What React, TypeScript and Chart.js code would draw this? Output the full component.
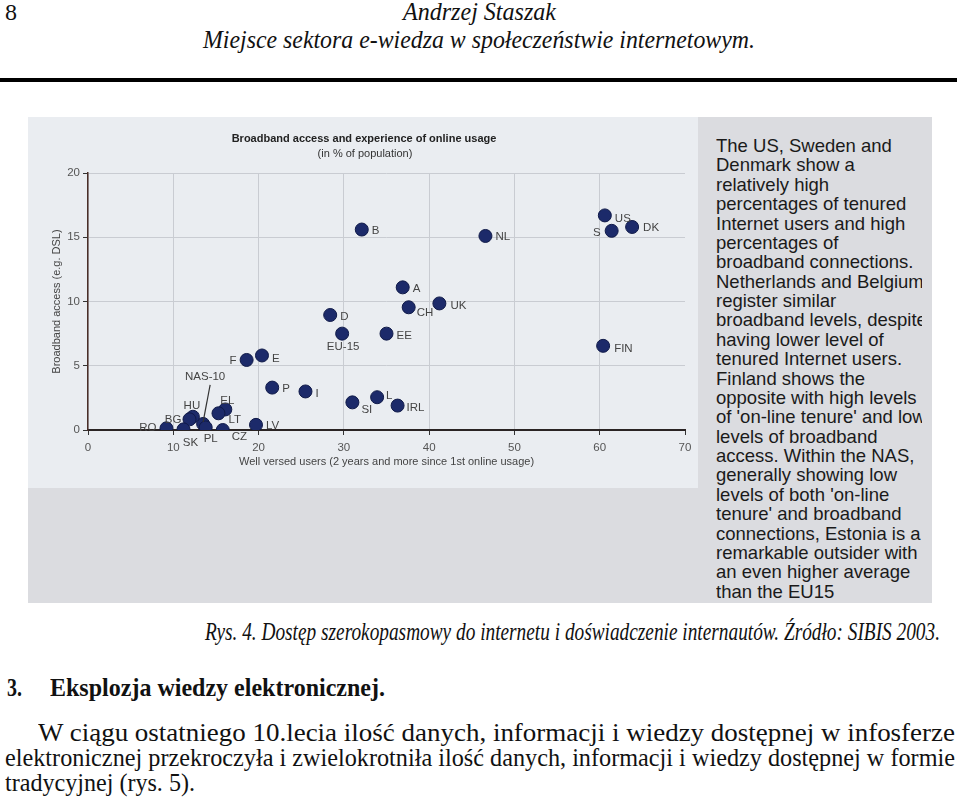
import React, { useEffect, useLayoutEffect, useRef } from "react";
import { Chart, registerables } from "chart.js";
Chart.register(...registerables);

// ---------- data ----------
const countries = ["B", "NL", "US", "S", "DK", "A", "CH", "UK", "D", "EU-15", "EE", "FIN", "F", "E", "P", "I", "SI", "L", "IRL", "NAS-10", "HU", "BG", "RO", "SK", "PL", "CZ", "LV", "EL", "LT"];
const wellVersed = [32.1, 46.6, 60.6, 61.4, 63.8, 36.9, 37.6, 41.2, 28.4, 29.8, 35.0, 60.4, 18.6, 20.4, 21.6, 25.5, 31.0, 33.9, 36.3, 13.5, 12.3, 11.9, 9.2, 11.2, 13.8, 15.8, 19.7, 16.1, 15.3];
const broadband = [15.6, 15.1, 16.7, 15.5, 15.8, 11.1, 9.55, 9.85, 8.95, 7.5, 7.5, 6.55, 5.45, 5.8, 3.3, 3.0, 2.15, 2.55, 1.9, 0.47, 1.03, 0.83, 0.13, 0.05, 0.2, 0.0, 0.4, 1.6, 1.3];
const xTickValues = [0, 10, 20, 30, 40, 50, 60, 70];
const yTickValues = [0, 5, 10, 15, 20];

const chartTitle = "Broadband access and experience of online usage";
const chartSubtitle = "(in % of population)";
const xAxisTitle = "Well versed users (2 years and more since 1st online usage)";
const yAxisTitle = "Broadband access (e.g. DSL)";

const sideText = [
  "The US, Sweden and",
  "Denmark show a",
  "relatively high",
  "percentages of tenured",
  "Internet users and high",
  "percentages of",
  "broadband connections.",
  "Netherlands and Belgium",
  "register similar",
  "broadband levels, despite",
  "having lower level of",
  "tenured Internet users.",
  "Finland shows the",
  "opposite with high levels",
  "of 'on-line tenure' and low",
  "levels of broadband",
  "access. Within the NAS,",
  "generally showing low",
  "levels of both 'on-line",
  "tenure' and broadband",
  "connections, Estonia is a",
  "remarkable outsider with",
  "an even higher average",
  "than the EU15",
];

// label placement relative to point (style only)
const labelPlacement: Record<string, [number, number, CanvasTextAlign]> = {
  "B": [10, 1, "left"],
  "NL": [10, 1, "left"],
  "US": [10, 3, "left"],
  "S": [-11, 2, "right"],
  "DK": [11, 1, "left"],
  "A": [10, 1, "left"],
  "CH": [8, 6, "left"],
  "UK": [11, 2, "left"],
  "D": [10, 2, "left"],
  "EU-15": [1, 13, "center"],
  "EE": [10, 2, "left"],
  "FIN": [11, 3, "left"],
  "F": [-10, 1, "right"],
  "E": [10, 3, "left"],
  "P": [10, 1, "left"],
  "I": [10, 2, "left"],
  "SI": [9, 7, "left"],
  "L": [9, -1, "left"],
  "IRL": [9, 2, "left"],
  "NAS-10": [2, -47, "center"],
  "HU": [-1, -11, "center"],
  "BG": [-8, 0, "right"],
  "RO": [-10, -1, "right"],
  "SK": [7, 13, "center"],
  "PL": [5, 11, "center"],
  "CZ": [9, 7, "left"],
  "LV": [10, 1, "left"],
  "EL": [2, -9, "center"],
  "LT": [10, 7, "left"],
};

const SANS = "'Liberation Sans', Arial, sans-serif";
const SERIF = "'Liberation Serif', 'Times New Roman', serif";

const annotatePlugin = {
  id: "annotate",
  afterDatasetsDraw(chart: any) {
    const ctx = chart.ctx;
    const area = chart.chartArea;
    const meta = chart.getDatasetMeta(0);
    ctx.save();
    ctx.font = `11.5px ${SANS}`;
    ctx.fillStyle = "#444";
    ctx.textBaseline = "middle";
    meta.data.forEach((pt: any, i: number) => {
      const name = countries[i];
      const pl = labelPlacement[name] || [10, 0, "left"];
      ctx.textAlign = pl[2];
      ctx.fillText(name, pt.x + pl[0], pt.y + pl[1]);
      if (name === "NAS-10") {
        ctx.strokeStyle = "#333";
        ctx.lineWidth = 1.2;
        ctx.beginPath();
        ctx.moveTo(pt.x + 7, pt.y - 39);
        ctx.lineTo(pt.x, pt.y - 2);
        ctx.stroke();
      }
    });
    // titles
    ctx.textAlign = "center";
    ctx.fillStyle = "#222";
    ctx.font = `bold 11px ${SANS}`;
    ctx.fillText(chartTitle, 336, 22);
    ctx.font = `11px ${SANS}`;
    ctx.fillStyle = "#333";
    ctx.fillText(chartSubtitle, 337, 37);
    // axis titles
    ctx.fillStyle = "#444";
    ctx.fillText(xAxisTitle, (area.left + area.right) / 2, 345);
    ctx.translate(29, (area.top + area.bottom) / 2);
    ctx.rotate(-Math.PI / 2);
    ctx.fillText(yAxisTitle, 0, 0);
    ctx.restore();
  },
};

function ScatterChart() {
  const ref = useRef<HTMLCanvasElement>(null);
  useEffect(() => {
    if (!ref.current) return;
    const chart = new Chart(ref.current, {
      type: "scatter",
      data: {
        datasets: [
          {
            data: wellVersed.map((x, i) => ({ x, y: broadband[i] })),
            backgroundColor: "#1c2a6a",
            borderColor: "#101a48",
            borderWidth: 1,
            pointRadius: 6.5,
          },
        ],
      },
      options: {
        responsive: false,
        animation: false,
        devicePixelRatio: 1,
        layout: { padding: { top: 56, right: 13, left: 0, bottom: 0 } },
        plugins: { legend: { display: false }, tooltip: { enabled: false }, title: { display: false } },
        scales: {
          x: {
            type: "linear",
            min: 0,
            max: 70,
            afterBuildTicks: (s: any) => { s.ticks = xTickValues.map((v) => ({ value: v })); },
            afterFit: (s: any) => { s.height = 58; },
            grid: {
              color: (c: any) => (c.tick && c.tick.value === 70 ? "rgba(0,0,0,0)" : "#c9ccd2"),
              lineWidth: 1,
              tickLength: 5,
              tickColor: "#333",
            },
            border: { color: "#2a2424", width: 2 },
            ticks: { font: { family: SANS, size: 11.5 }, color: "#555", padding: 6, maxRotation: 0 },
          },
          y: {
            type: "linear",
            min: 0,
            max: 20,
            afterBuildTicks: (s: any) => { s.ticks = yTickValues.map((v) => ({ value: v })); },
            afterFit: (s: any) => { s.width = 60; },
            grid: { color: "#c9ccd2", lineWidth: 1, tickLength: 5, tickColor: "#333" },
            border: { color: "#4a2e28", width: 1.5 },
            ticks: { font: { family: SANS, size: 11.5 }, color: "#555", padding: 3 },
          },
        },
      },
      plugins: [annotatePlugin],
    } as any);
    return () => chart.destroy();
  }, []);
  return <canvas ref={ref} width={670} height={371} style={{ display: "block", width: 670, height: 371 }} />;
}

function FitText(props: { text: string; left: number; top: number; width?: number; style?: React.CSSProperties }) {
  const ref = useRef<HTMLSpanElement>(null);
  useLayoutEffect(() => {
    const el = ref.current;
    if (!el || !props.width) return;
    el.style.transform = "none";
    const w = el.getBoundingClientRect().width;
    if (w > 0) el.style.transform = `scaleX(${props.width / w})`;
  }, [props.text, props.width]);
  return (
    <span
      ref={ref}
      style={{
        position: "absolute",
        left: props.left,
        top: props.top,
        whiteSpace: "pre",
        transformOrigin: "0 0",
        lineHeight: 1,
        fontFamily: SERIF,
        color: "#111",
        ...props.style,
      }}
    >
      {props.text}
    </span>
  );
}

export default function App() {
  const fs = 25;
  const asc = 0.8375 * fs;
  return (
    <div style={{ position: "fixed", left: 0, top: 0, width: 960, height: 799, background: "#fff", overflow: "hidden" }}>
      <FitText text="8" left={5} top={20 - 0.8375 * 24} style={{ fontSize: 24 }} />
      <FitText text="Andrzej Staszak" left={403} top={20 - asc} width={153} style={{ fontSize: fs, fontStyle: "italic" }} />
      <FitText text="Miejsce sektora e-wiedza w społeczeństwie internetowym." left={203} top={48 - asc} width={552} style={{ fontSize: fs, fontStyle: "italic" }} />
      <div style={{ position: "absolute", left: 0, top: 78, width: 957, height: 4, background: "#000" }} />

      <div style={{ position: "absolute", left: 28, top: 117, width: 904, height: 486, background: "#dbdce0" }} />
      <div style={{ position: "absolute", left: 28, top: 117, width: 670, height: 371, background: "#eaedf1" }}>
        <ScatterChart />
      </div>
      <div style={{ position: "absolute", left: 716, top: 136, width: 206, overflow: "hidden", fontFamily: SANS, fontSize: 18.5, lineHeight: "19.38px", color: "#1a1a1a" }}>
        {sideText.map((l, i) => (
          <div key={i} style={{ whiteSpace: "nowrap" }}>{l}</div>
        ))}
      </div>

      <FitText text="Rys. 4. Dostęp szerokopasmowy do internetu i doświadczenie internautów. Źródło: SIBIS 2003." left={205} top={640 - asc} width={735} style={{ fontSize: fs, fontStyle: "italic" }} />
      <FitText text="3." left={7} top={696 - asc} width={15} style={{ fontSize: fs, fontWeight: "bold" }} />
      <FitText text="Eksplozja wiedzy elektronicznej." left={50} top={696 - asc} width={335} style={{ fontSize: fs, fontWeight: "bold" }} />
      <FitText text="W ciągu ostatniego 10.lecia ilość danych, informacji i wiedzy dostępnej w infosferze" left={38} top={741 - asc} width={917} style={{ fontSize: fs }} />
      <FitText text="elektronicznej przekroczyła i zwielokrotniła ilość danych, informacji i wiedzy dostępnej w formie" left={5} top={766 - asc} width={950} style={{ fontSize: fs }} />
      <FitText text="tradycyjnej (rys. 5)." left={5} top={791 - asc} width={190} style={{ fontSize: fs }} />
    </div>
  );
}
